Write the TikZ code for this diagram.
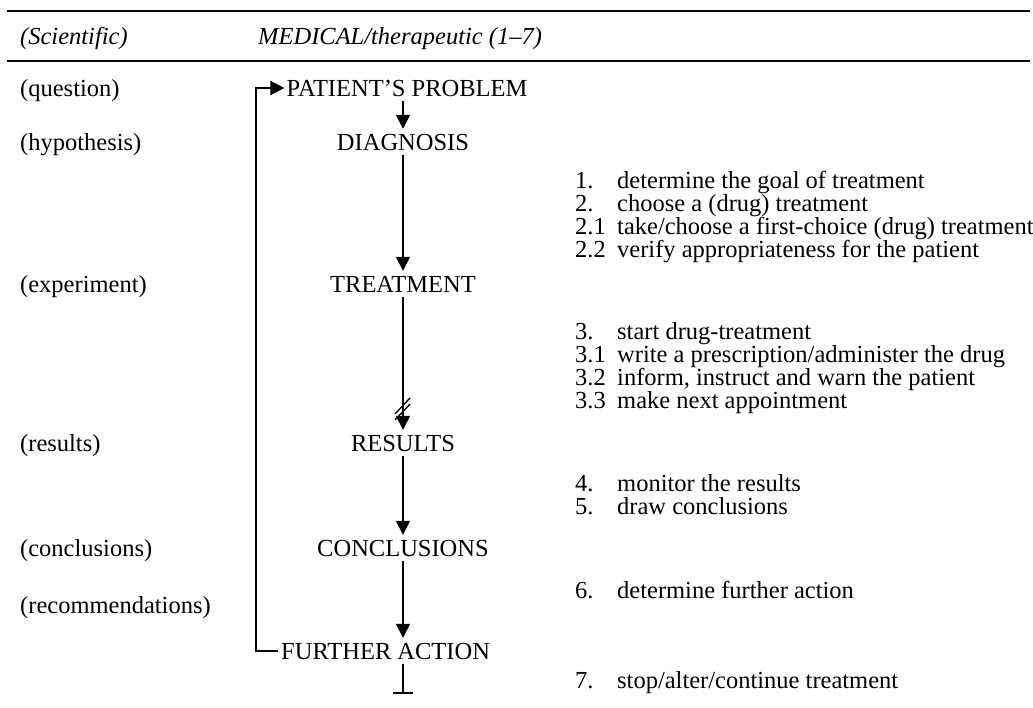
\documentclass[tikz,border=0pt]{standalone}
\usepackage{fontspec}
\setmainfont{Liberation Serif}
\usetikzlibrary{arrows.meta}
\begin{document}
\begin{tikzpicture}[x=1pt,y=-1pt,
  every node/.style={font=\fontsize{24.5}{28}\selectfont},
  lab/.style={anchor=base west, inner sep=0pt},
  stage/.style={anchor=base, inner xsep=2pt, inner ysep=5pt, text height=16pt, text depth=0pt},
  stagew/.style={anchor=base west, inner xsep=3pt, inner ysep=5pt, text height=16pt, text depth=0pt},
  item/.style={anchor=base west, inner sep=0pt, text height=15pt, text depth=5pt},
  flow/.style={line width=1.6pt, -{Triangle[width=14pt,length=14pt]}},
  plain/.style={line width=1.6pt},
  rulethick/.style={line width=1.8pt}]
\useasboundingbox (0,0) rectangle (1033,707);
% header rules
\coordinate (r1a) at (7,11); \coordinate (r1b) at (1030,11);
\coordinate (r2a) at (7,61); \coordinate (r2b) at (1030,61);
\draw[rulethick] (r1a) -- (r1b);
\draw[line width=1.4pt] (r2a) -- (r2b);
\node[lab] (hsci) at (20,44) {\itshape (Scientific)};
\node[lab] (hmed) at (258,44) {\itshape MEDICAL/therapeutic (1--7)};
% left labels
\node[lab] (lq) at (20,96) {(question)};
\node[lab] (lh) at (20,150) {(hypothesis)};
\node[lab] (le) at (20,292) {(experiment)};
\node[lab] (lr) at (20,451) {(results)};
\node[lab] (lc) at (20,556) {(conclusions)};
\node[lab] (lrec) at (20,613) {(recommendations)};
% stages
\node[stage] (pp) at (407,96) {PATIENT'S PROBLEM};
\node[stage] (diag) at (403,150) {DIAGNOSIS};
\node[stage] (treat) at (403,292) {TREATMENT};
\node[stage] (res) at (403,451) {RESULTS};
\node[stage] (concl) at (403,556) {CONCLUSIONS};
\node[stagew] (fa) at (278,659) {FURTHER ACTION};
% connectors
\draw[flow] (pp.south -| diag) -- (diag.north);
\draw[flow] (diag.south) -- (treat.north);
\draw[flow] (treat.south) -- (res.north);
\draw[flow] (res.south) -- (concl.north);
\draw[flow] (concl.south) -- (concl.south |- fa.north);
\coordinate (tend) at (403,693);
\draw[plain] (fa.south -| tend) -- (tend);
\draw[plain] ([xshift=-10pt]tend) -- ([xshift=10pt]tend);
% break marks
\draw[line width=1.4pt] (395,414) -- (410,398);
\draw[line width=1.4pt] (395,420) -- (410,404);
% feedback loop
\coordinate (lb) at (256,651);
\coordinate (lt) at (256,88);
\draw[flow] (fa.west) -- (lb) -- (lt) -- (pp.west);
% right column items
\node[item] (n1) at (575,188) {1.};   \node[item] (t1) at (617,188) {determine the goal of treatment};
\node[item] (n2) at (575,211) {2.};   \node[item] (t2) at (617,211) {choose a (drug) treatment};
\node[item] (n21) at (575,234) {2.1}; \node[item] (t21) at (617,234) {take/choose a first-choice (drug) treatment};
\node[item] (n22) at (575,257) {2.2}; \node[item] (t22) at (617,257) {verify appropriateness for the patient};
\node[item] (n3) at (575,339) {3.};   \node[item] (t3) at (617,339) {start drug-treatment};
\node[item] (n31) at (575,362) {3.1}; \node[item] (t31) at (617,362) {write a prescription/administer the drug};
\node[item] (n32) at (575,385) {3.2}; \node[item] (t32) at (617,385) {inform, instruct and warn the patient};
\node[item] (n33) at (575,408) {3.3}; \node[item] (t33) at (617,408) {make next appointment};
\node[item] (n4) at (575,491) {4.};   \node[item] (t4) at (617,491) {monitor the results};
\node[item] (n5) at (575,514) {5.};   \node[item] (t5) at (617,514) {draw conclusions};
\node[item] (n6) at (575,598) {6.};   \node[item] (t6) at (617,598) {determine further action};
\node[item] (n7) at (575,688) {7.};   \node[item] (t7) at (617,688) {stop/alter/continue treatment};
\end{tikzpicture}
\end{document}
